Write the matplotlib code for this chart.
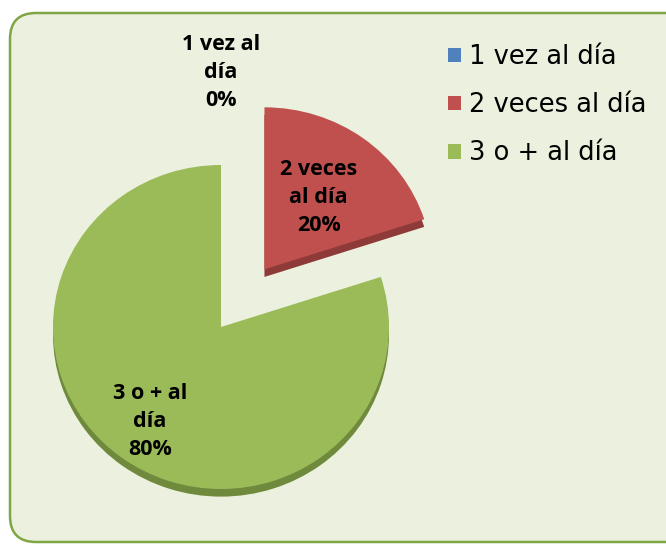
import numpy as np
import matplotlib.pyplot as plt
from matplotlib.patches import FancyBboxPatch
from matplotlib.transforms import IdentityTransform

categorias = ["1 vez al día", "2 veces al día", "3 o + al día"]
etiquetas = ["1 vez al\ndía\n0%", "2 veces\nal día\n20%", "3 o + al\ndía\n80%"]
valores = [0, 20, 80]
colores = ["#4F81BD", "#C0504D", "#9BBB59"]
colores_borde = ["#3A6190", "#8E3A38", "#6F8A3C"]
separar = [0, 0.44, 0]
dist_etiqueta = [1.57, 0.55, 0.72]

fig = plt.figure(figsize=(6.66, 5.45), dpi=100)

# fondo con esquinas redondeadas (en pixeles)
fondo = FancyBboxPatch((10, 3), 690, 529,
                       boxstyle="round,pad=0,rounding_size=26",
                       transform=IdentityTransform(), facecolor="#EBF1DE",
                       edgecolor="#80A544", linewidth=1.8, zorder=-5)
fig.patches.append(fondo)

ax = fig.add_axes([0, 0, 1, 1])
ax.patch.set_alpha(0)

# canto inferior (efecto 3D)
ax.pie(valores, colors=colores_borde, explode=separar, startangle=90,
       counterclock=False, center=(0, -0.047),
       wedgeprops=dict(linewidth=0, clip_on=False))
cunas, _ = ax.pie(valores, colors=colores, explode=separar, startangle=90,
                  counterclock=False,
                  wedgeprops=dict(linewidth=0, clip_on=False))

for w, txt, d in zip(cunas, etiquetas, dist_etiqueta):
    ang = np.deg2rad((w.theta1 + w.theta2) / 2)
    cx, cy = w.center
    ax.text(cx + d * np.cos(ang), cy + d * np.sin(ang), txt,
            ha="center", va="center", fontsize=15.5, fontweight="bold",
            family="Open Sans", linespacing=1.45, color="black")

# escala algo achatada en vertical (vista inclinada)
esc_x = 168.0
esc_y = 162.0
ax.set_aspect("auto")
ax.set_xlim(-221 / esc_x, 445 / esc_x)
ax.set_ylim(-218 / esc_y, 327 / esc_y)
ax.axis("off")

fig.legend(cunas, categorias, loc="upper left",
           bbox_to_anchor=(425 / 666, 1 - 21 / 545), frameon=False,
           prop=dict(family="DejaVu Sans", size=18.5),
           handlelength=0.5, handleheight=0.5, handletextpad=0.3,
           labelspacing=0.86)

fig.savefig("out.png", dpi=100)
